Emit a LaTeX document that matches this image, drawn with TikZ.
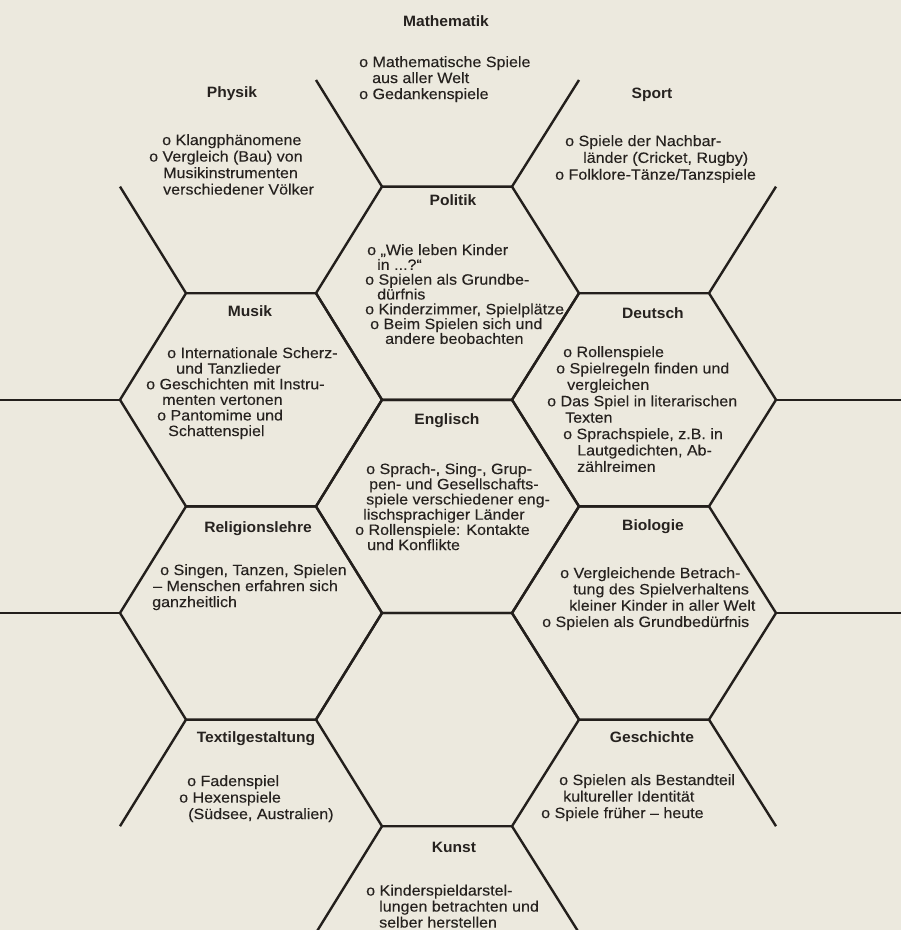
\documentclass[tikz,border=0pt]{standalone}
\usepackage{fontspec}
\setmainfont{Liberation Sans}
\newfontfamily\inkfont{Liberation Sans}[FakeStretch=1.07, FakeBold=0.2]
\newfontfamily\headfont{Liberation Sans}[FakeStretch=1.04]
\definecolor{paper}{RGB}{236,233,222}
\definecolor{ink}{RGB}{35,31,28}
\definecolor{txt}{RGB}{38,34,31}
\setlength{\lineskiplimit}{-20pt}
\tikzset{
  hexline/.style={draw=ink, line width=2.4pt, line join=miter},
  subjtitle/.style={font=\headfont\bfseries\fontsize{15}{15}\selectfont, text=txt, anchor=base, inner sep=0pt},
  subjbody/.style={font=\inkfont\fontsize{15}{16}\selectfont, text=txt, align=left, anchor=north west, inner sep=0pt},
  lead/.style={font=\inkfont\fontsize{15}{#1}\selectfont},
}
\begin{document}
\begin{tikzpicture}[x=1pt,y=-1pt]
\fill[paper] (0,0) rectangle (901,930);
\useasboundingbox (0,0) rectangle (901,930);
% grid coordinates
\foreach \n/\xx in {A/120,B/186,C/316,D/382,E/512,F/579,G/709,H/776}{
  \foreach \r/\yy in {0/80,1/186.6,2/293.2,3/399.8,4/506.4,5/613,6/719.6,7/826.2,8/932.8}{
    \coordinate (\n\r) at (\xx,\yy);
  }
}
\coordinate (L3) at (-5,399.8);
\coordinate (L5) at (-5,613);
\coordinate (R3) at (906,399.8);
\coordinate (R5) at (906,613);
\begin{scope}
\clip (0,0) rectangle (901,930);
% seven full hexagons
\draw[hexline] (D1)--(E1)--(F2)--(E3)--(D3)--(C2)--cycle;
\draw[hexline] (D3)--(E3)--(F4)--(E5)--(D5)--(C4)--cycle;
\draw[hexline] (D5)--(E5)--(F6)--(E7)--(D7)--(C6)--cycle;
\draw[hexline] (B2)--(C2)--(D3)--(C4)--(B4)--(A3)--cycle;
\draw[hexline] (B4)--(C4)--(D5)--(C6)--(B6)--(A5)--cycle;
\draw[hexline] (F2)--(G2)--(H3)--(G4)--(F4)--(E3)--cycle;
\draw[hexline] (F4)--(G4)--(H5)--(G6)--(F6)--(E5)--cycle;
% spokes
\draw[hexline] (D1)--(C0);
\draw[hexline] (E1)--(F0);
\draw[hexline] (B2)--(A1);
\draw[hexline] (G2)--(H1);
\draw[hexline] (A3)--(L3);
\draw[hexline] (A5)--(L5);
\draw[hexline] (H3)--(R3);
\draw[hexline] (H5)--(R5);
\draw[hexline] (B6)--(A7);
\draw[hexline] (G6)--(H7);
\draw[hexline] (D7)--(C8);
\draw[hexline] (E7)--(F8);
\end{scope}
% titles
\node[subjtitle] (tmath) at (446,26) {Mathematik};
\node[subjtitle] (tphys) at (232,97) {Physik};
\node[subjtitle] (tsport) at (652,98) {Sport};
\node[subjtitle] (tpol) at (453,205) {Politik};
\node[subjtitle] (tmus) at (250,316) {Musik};
\node[subjtitle] (tdeu) at (653,318) {Deutsch};
\node[subjtitle] (teng) at (447,424) {Englisch};
\node[subjtitle] (trel) at (258,532) {Religionslehre};
\node[subjtitle] (tbio) at (653,530) {Biologie};
\node[subjtitle] (ttex) at (256,742) {Textilgestaltung};
\node[subjtitle] (tges) at (652,742) {Geschichte};
\node[subjtitle] (tkun) at (454,852) {Kunst};
% bodies
\node[subjbody] (bmath) at (359,56) {o Mathematische Spiele\\\hspace*{13pt}aus aller Welt\\o Gedankenspiele};
\node[subjbody,lead=16.5] (bphys) at (149,134) {\hspace*{13pt}o Klangphänomene\\o Vergleich (Bau) von\\\hspace*{14pt}Musikinstrumenten\\\hspace*{14pt}verschiedener Völker};
\node[subjbody,lead=16.8] (bsport) at (555,135) {\hspace*{10pt}o Spiele der Nachbar-\\\hspace*{28pt}länder (Cricket, Rugby)\\o Folklore-Tänze/Tanzspiele};
\node[subjbody,lead=14.8] (bpol) at (365,244) {\hspace*{2pt}o „Wie leben Kinder\\\hspace*{12pt}in ...?“\\o Spielen als Grundbe-\\\hspace*{12pt}dürfnis\\o Kinderzimmer, Spielplätze\\\hspace*{5pt}o Beim Spielen sich und\\\hspace*{20pt}andere beobachten};
\node[subjbody,lead=15.6] (bmus) at (146,347) {\hspace*{21pt}o Internationale Scherz-\\\hspace*{30pt}und Tanzlieder\\o Geschichten mit Instru-\\\hspace*{16pt}menten vertonen\\\hspace*{11pt}o Pantomime und\\\hspace*{22pt}Schattenspiel};
\node[subjbody,lead=16.4] (bdeu) at (547,346) {\hspace*{16pt}o Rollenspiele\\\hspace*{9pt}o Spielregeln finden und\\\hspace*{20pt}vergleichen\\o Das Spiel in literarischen\\\hspace*{18pt}Texten\\\hspace*{16pt}o Sprachspiele, z.B. in\\\hspace*{30pt}Lautgedichten, Ab-\\\hspace*{30pt}zählreimen};
\node[subjbody,lead=15.2] (beng) at (355,463) {\hspace*{11pt}o Sprach-, Sing-, Grup-\\\hspace*{14pt}pen- und Gesellschafts-\\\hspace*{11pt}spiele verschiedener eng-\\\hspace*{8pt}lischsprachiger Länder\\o Rollenspiele: Kontakte\\\hspace*{12pt}und Konflikte};
\node[subjbody] (brel) at (152,564) {\hspace*{8pt}o Singen, Tanzen, Spielen\\\hspace*{1pt}– Menschen erfahren sich\\ganzheitlich};
\node[subjbody,lead=16.3] (bbio) at (542,567) {\hspace*{18pt}o Vergleichende Betrach-\\\hspace*{31pt}tung des Spielverhaltens\\\hspace*{27pt}kleiner Kinder in aller Welt\\o Spielen als Grundbedürfnis};
\node[subjbody,lead=16.5] (btex) at (179,775) {\hspace*{8pt}o Fadenspiel\\o Hexenspiele\\\hspace*{9pt}(Südsee, Australien)};
\node[subjbody,lead=16.5] (bges) at (541,774) {\hspace*{18pt}o Spielen als Bestandteil\\\hspace*{22pt}kultureller Identität\\o Spiele früher – heute};
\node[subjbody,lead=16] (bkun) at (366,884.5) {o Kinderspieldarstel-\\\hspace*{13pt}lungen betrachten und\\\hspace*{13pt}selber herstellen};
\end{tikzpicture}
\end{document}
